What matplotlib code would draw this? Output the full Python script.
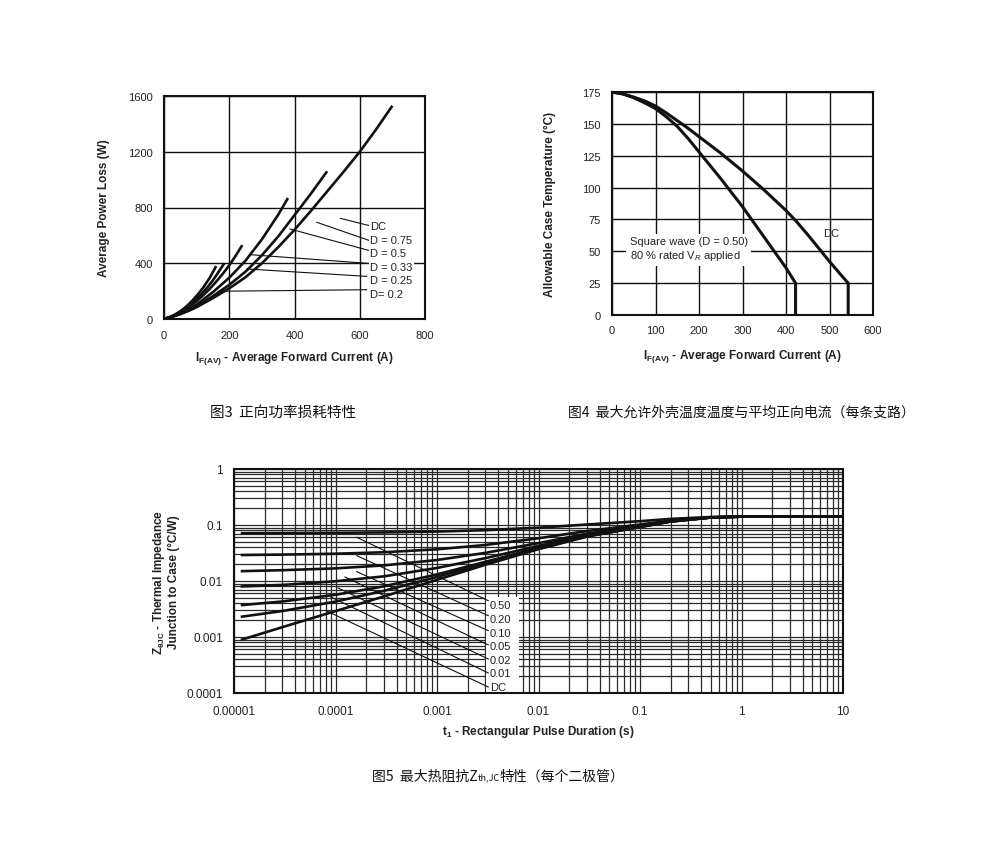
import matplotlib
matplotlib.use('Agg')
import matplotlib.pyplot as plt
from matplotlib.ticker import FixedLocator, FixedFormatter, LogLocator, NullFormatter
from matplotlib.patches import Rectangle

plt.rcParams['font.family'] = ['Liberation Sans', 'DejaVu Sans']
plt.rcParams['mathtext.fontset'] = 'custom'
plt.rcParams['mathtext.rm'] = 'Liberation Sans'
plt.rcParams['mathtext.it'] = 'Liberation Sans:italic'
plt.rcParams['mathtext.bf'] = 'Liberation Sans:bold'

CJK = ['Noto Sans CJK SC', 'DejaVu Sans']
TXT = '#222222'

# ---------------- Fig 3 : average power loss ----------------
loss_labels = ['DC', 'D = 0.75', 'D = 0.5', 'D = 0.33', 'D = 0.25', 'D= 0.2']
i_dc = [0, 25, 50, 75, 100, 150, 200, 250, 300, 350, 400, 450, 500, 550, 600, 650, 700]
p_dc = [0, 15, 35, 58, 85, 150, 220, 300, 400, 515, 640, 775, 915, 1055, 1200, 1360, 1530]
i_075 = [0, 25, 50, 75, 100, 150, 200, 250, 300, 350, 400, 450, 500]
p_075 = [0, 16, 37, 62, 91, 164, 245, 340, 457, 592, 745, 898, 1060]
i_050 = [0, 25, 50, 75, 100, 150, 200, 250, 300, 350, 380]
p_050 = [0, 17, 40, 70, 104, 193, 296, 419, 571, 748, 868]
i_033 = [0, 20, 40, 60, 80, 100, 120, 140, 160, 180, 200, 220, 240]
p_033 = [0, 15, 35, 61, 92, 129, 170, 216, 268, 324, 385, 455, 530]
i_025 = [0, 15, 30, 45, 60, 75, 90, 105, 120, 135, 150, 165, 185]
p_025 = [0, 11, 25, 44, 66, 92, 121, 155, 192, 233, 278, 330, 400]
i_020 = [0, 15, 30, 45, 60, 75, 90, 105, 120, 140, 160]
p_020 = [0, 12, 27, 48, 73, 104, 140, 180, 225, 295, 380]
loss_curves_i = [i_dc, i_075, i_050, i_033, i_025, i_020]
loss_curves_p = [p_dc, p_075, p_050, p_033, p_025, p_020]
# leader lines (start near curves -> label)
lead_i0 = [541, 468, 386, 267, 254, 166]
lead_p0 = [722, 694, 646, 461, 359, 199]
lead_i1 = [631, 631, 631, 621, 621, 621]
lead_p1 = [669, 562, 490, 400, 306, 210]
label_i = 632
label_p = [669, 567, 474, 371, 280, 180]
loss_xticks = [0, 200, 400, 600, 800]
loss_yticks = [0, 400, 800, 1200, 1600]

# ---------------- Fig 4 : allowable case temperature ----------------
i_sq = [0, 25, 50, 75, 100, 125, 150, 175, 200, 225, 250, 275, 300, 325, 350, 375, 400, 422, 422]
t_sq = [175, 173.5, 170.5, 166.5, 162, 155.5, 148, 138.5, 128, 117.5, 107, 96, 85, 73, 61, 49, 37,
        25, 0]
i_dcc = [0, 25, 50, 75, 100, 125, 150, 175, 200, 225, 250, 275, 300, 325, 350, 375, 400, 425,
         450, 475, 500, 525, 543, 543]
t_dcc = [175, 173.5, 171, 168, 164, 158.5, 152.5, 146.5, 140, 133.5, 127, 120, 113, 105.5, 98,
         90, 82, 73, 63, 52.5, 42, 32, 25, 0]
case_xticks = [0, 100, 200, 300, 400, 500, 600]
case_yticks = [0, 25, 50, 75, 100, 125, 150, 175]

# ---------------- Fig 5 : transient thermal impedance ----------------
t_pulse = [1.2e-5, 3e-5, 1e-4, 3e-4, 1e-3, 3e-3, 1e-2, 3e-2, 1e-1, 2e-1, 5e-1, 1, 10]
z_050 = [0.0715, 0.0718, 0.0725, 0.0737, 0.0763, 0.0808, 0.0895, 0.102, 0.117, 0.1285, 0.139,
         0.1415, 0.142]
z_020 = [0.0291, 0.0296, 0.0307, 0.0326, 0.0368, 0.044, 0.058, 0.078, 0.102, 0.120, 0.137, 0.141,
         0.142]
z_010 = [0.0150, 0.0156, 0.0168, 0.0190, 0.0237, 0.0318, 0.0475, 0.070, 0.097, 0.118, 0.137,
         0.141, 0.142]
z_005 = [0.0080, 0.0085, 0.0099, 0.0121, 0.0171, 0.0256, 0.0423, 0.066, 0.0945, 0.1164, 0.1363,
         0.141, 0.142]
z_002 = [0.00372, 0.00431, 0.00568, 0.00803, 0.01313, 0.0220, 0.0391, 0.0636, 0.0930, 0.1155,
         0.136, 0.141, 0.142]
z_001 = [0.00231, 0.00291, 0.00429, 0.00667, 0.01182, 0.0207, 0.0380, 0.0628, 0.0925, 0.1153,
         0.136, 0.141, 0.142]
z_dc = [0.0009, 0.0015, 0.0029, 0.0053, 0.0105, 0.0195, 0.037, 0.062, 0.092, 0.115, 0.136, 0.141,
        0.142]
z_curves = [z_050, z_020, z_010, z_005, z_002, z_001, z_dc]
z_labels = ['0.50', '0.20', '0.10', '0.05', '0.02', '0.01', 'DC']
zl_t0 = [1.62e-4, 1.62e-4, 1.62e-4, 1.24e-4, 1.06e-4, 9.0e-5, 8.2e-5]
zl_z0 = [0.0603, 0.0283, 0.01466, 0.0118, 0.0075, 0.00518, 0.00291]
zl_t1 = [3.2e-3] * 7
zl_z1 = [0.00445, 0.0024, 0.00130, 0.00072, 0.000405, 0.000228, 0.000128]
zlab_t = 3.33e-3
zlab_z = [0.00372, 0.00210, 0.00118, 0.00069, 0.00039, 0.000228, 0.000128]
z_xticks = [1e-5, 1e-4, 1e-3, 1e-2, 1e-1, 1, 10]
z_xticklabels = ['0.00001', '0.0001', '0.001', '0.01', '0.1', '1', '10']
z_yticks = [1e-4, 1e-3, 1e-2, 1e-1, 1]
z_yticklabels = ['0.0001', '0.001', '0.01', '0.1', '1']

W, H = 1000, 854
fig = plt.figure(figsize=(W / 100, H / 100), dpi=100)
fig.patch.set_facecolor('white')


def box(l, t, r, b):
    return [l / W, 1 - b / H, (r - l) / W, (b - t) / H]


def style(ax, lw=1.5):
    for s in ax.spines.values():
        s.set_linewidth(lw)
        s.set_color('#111111')
    ax.tick_params(which='both', length=0, labelsize=8, colors=TXT)
    ax.set_axisbelow(True)


# ---- chart 1
ax1 = fig.add_axes(box(164, 97, 425, 320))
style(ax1)
ax1.set_xlim(0, 800)
ax1.set_ylim(0, 1600)
ax1.set_xticks(loss_xticks)
ax1.set_yticks(loss_yticks)
ax1.grid(True, color='#111111', lw=1.0)
ax1.tick_params(axis='y', pad=8)
ax1.tick_params(axis='x', pad=8)
for xi, yp in zip(loss_curves_i, loss_curves_p):
    ax1.plot(xi, yp, color='#111111', lw=1.9, solid_capstyle='butt', solid_joinstyle='round',
             zorder=3)
for a0, b0, a1, b1 in zip(lead_i0, lead_p0, lead_i1, lead_p1):
    ax1.plot([a0, a1], [b0, b1], color='#111111', lw=0.8, zorder=3)
for lab, yp in zip(loss_labels, label_p):
    ax1.text(label_i, yp, lab, fontsize=8, color=TXT, ha='left', va='center', zorder=4,
             bbox=dict(facecolor='white', edgecolor='none', pad=1.0))
ax1.set_ylabel('Average Power Loss (W)', fontsize=8.5, fontweight='bold', color=TXT)
ax1.yaxis.set_label_coords(-0.205, 0.5)
ax1.set_xlabel(r'I$_{\mathbf{F(AV)}}$ - Average Forward Current (A)', fontsize=8.5,
               fontweight='bold', color=TXT)
ax1.xaxis.set_label_coords(0.5, -0.135)

# ---- chart 2
ax2 = fig.add_axes(box(612, 93, 873, 316))
style(ax2)
ax2.set_xlim(0, 600)
ax2.set_ylim(0, 175)
ax2.set_xticks(case_xticks)
ax2.set_yticks(case_yticks)
ax2.grid(True, color='#111111', lw=1.0)
ax2.tick_params(axis='y', pad=8)
ax2.tick_params(axis='x', pad=7)
ax2.plot(i_sq, t_sq, color='#111111', lw=2.2, solid_joinstyle='round', zorder=3)
ax2.plot(i_dcc, t_dcc, color='#111111', lw=2.2, solid_joinstyle='round', zorder=3)
ax2.text(41, 51.8, 'Square wave (D = 0.50)\n80 % rated V$_R$ applied', fontsize=8,
         color=TXT, ha='left', va='center', linespacing=1.25, zorder=4,
         bbox=dict(facecolor='white', edgecolor='none', pad=2.5))
ax2.text(505, 64.5, 'DC', fontsize=8, color=TXT, ha='center', va='center', zorder=4)
ax2.set_ylabel('Allowable Case Temperature (°C)', fontsize=8.5, fontweight='bold', color=TXT)
ax2.yaxis.set_label_coords(-0.215, 0.5)
ax2.set_xlabel(r'I$_{\mathbf{F(AV)}}$ - Average Forward Current (A)', fontsize=8.5,
               fontweight='bold', color=TXT)
ax2.xaxis.set_label_coords(0.5, -0.145)

# ---- chart 3
ax3 = fig.add_axes(box(234, 470, 843, 694))
style(ax3)
ax3.set_xscale('log')
ax3.set_yscale('log')
ax3.set_xlim(1e-5, 10)
ax3.set_ylim(1e-4, 1)
ax3.xaxis.set_major_locator(FixedLocator(z_xticks))
ax3.xaxis.set_major_formatter(FixedFormatter(z_xticklabels))
ax3.yaxis.set_major_locator(FixedLocator(z_yticks))
ax3.yaxis.set_major_formatter(FixedFormatter(z_yticklabels))
ax3.xaxis.set_minor_locator(LogLocator(base=10, subs=range(2, 10), numticks=20))
ax3.yaxis.set_minor_locator(LogLocator(base=10, subs=range(2, 10), numticks=20))
ax3.xaxis.set_minor_formatter(NullFormatter())
ax3.yaxis.set_minor_formatter(NullFormatter())
ax3.grid(True, which='both', color='#2a2a2a', lw=0.9)
ax3.tick_params(which='both', labelsize=8.5)
ax3.tick_params(axis='y', pad=8)
ax3.tick_params(axis='x', pad=9)
for z in z_curves:
    ax3.plot(t_pulse, z, color='#111111', lw=1.9, solid_joinstyle='round', zorder=3)
ax3.add_patch(Rectangle((3.04e-3, 1e-4), 6.43e-3 - 3.04e-3, 0.00518 - 1e-4,
                        facecolor='white', edgecolor='none', zorder=2.5))
for a0, b0, a1, b1 in zip(zl_t0, zl_z0, zl_t1, zl_z1):
    ax3.plot([a0, a1], [b0, b1], color='#111111', lw=0.8, zorder=3)
for lab, zz in zip(z_labels, zlab_z):
    ax3.text(zlab_t, zz, lab, fontsize=8, color=TXT, ha='left', va='center', zorder=4)
ax3.set_ylabel('Z$_{\\mathbf{\\theta JC}}$ - Thermal Impedance\nJunction to Case (°C/W)',
               fontsize=8.5, fontweight='bold', color=TXT, linespacing=1.1)
ax3.yaxis.set_label_coords(-0.088, 0.5)
ax3.set_xlabel(r't$_\mathbf{1}$ - Rectangular Pulse Duration (s)', fontsize=8.5,
               fontweight='bold', color=TXT)
ax3.xaxis.set_label_coords(0.5, -0.135)

# ---- captions
fig.text(210 / W, 1 - 413 / H, '图3  正向功率损耗特性', family=CJK, fontsize=10.5,
         color='#111111', ha='left', va='center')
fig.text(568 / W, 1 - 413 / H, '图4  最大允许外壳温度温度与平均正向电流（每条支路）', family=CJK,
         fontsize=10, color='#111111', ha='left', va='center')
c1 = fig.text(372 / W, 1 - 777 / H, '图5  最大热阻抗Z', family=CJK, fontsize=10,
              color='#111111', ha='left', va='center')
c2 = ax3.annotate('th,JC', xy=(1, 0), xycoords=c1, xytext=(0, 1), textcoords='offset points',
                  family=CJK, fontsize=6.5, color='#111111', ha='left', va='bottom',
                  annotation_clip=False)
c3 = ax3.annotate('特性（每个二极管）', xy=(1, 0.5), xycoords=(c2, c1), family=CJK, fontsize=10,
                  color='#111111', ha='left', va='center', annotation_clip=False)

fig.savefig('out.png', dpi=100, facecolor='white')
